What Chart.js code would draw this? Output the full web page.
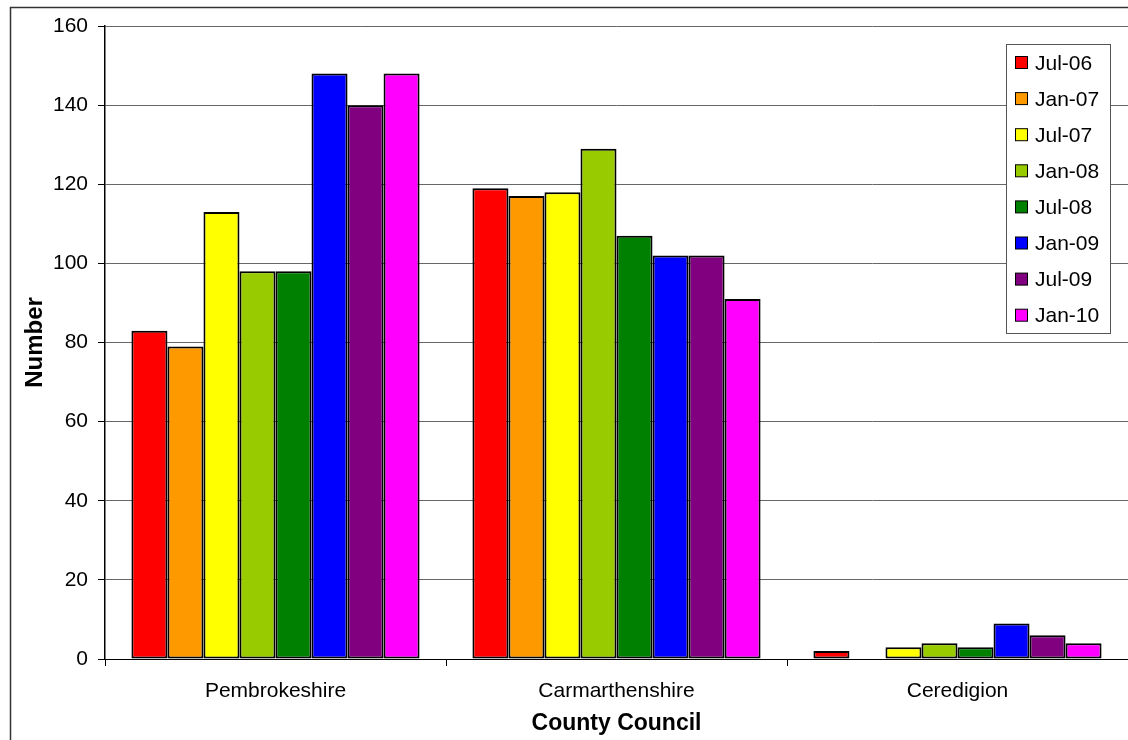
<!DOCTYPE html>
<html lang="en">
<head>
    <meta charset="UTF-8">
    <title>County Council</title>
    <script src="https://cdn.jsdelivr.net/npm/chart.js"></script>
    <style>
        body { margin: 0; background: #fff; }
        #wrap { width: 1128px; height: 740px; }
    </style>
</head>
<body>
<div id="wrap"><canvas id="myChart" width="1128" height="740"></canvas></div>
<script>
    const councils = ['Pembrokeshire', 'Carmarthenshire', 'Ceredigion'];
    const periods = ['Jul-06', 'Jan-07', 'Jul-07', 'Jan-08', 'Jul-08', 'Jan-09', 'Jul-09', 'Jan-10'];
    const cores = ['#FF0000', '#FF9900', '#FFFF00', '#99CC00', '#008000', '#0000FF', '#800080', '#FF00FF'];

    const jul06 = [83, 119, 2];
    const jan07 = [79, 117, 0];
    const jul07 = [113, 118, 3];
    const jan08 = [98, 129, 4];
    const jul08 = [98, 107, 3];
    const jan09 = [148, 102, 9];
    const jul09 = [140, 102, 6];
    const jan10 = [148, 91, 4];
    const valores = [jul06, jan07, jul07, jan08, jul08, jan09, jul09, jan10];

    const yTicks = [0, 20, 40, 60, 80, 100, 120, 140, 160];

    const fonte = "'Liberation Sans', Arial, sans-serif";

    // moldura externa e legenda desenhadas a mao
    const moldura = {
        id: 'moldura',
        beforeDraw(chart) {
            const ctx = chart.ctx;
            ctx.save();
            ctx.strokeStyle = '#333';
            ctx.lineWidth = 1.5;
            ctx.strokeRect(10.5, 7.5, 1300, 900);
            ctx.restore();
        },
        afterDraw(chart) {
            const ctx = chart.ctx;
            ctx.save();
            ctx.fillStyle = '#fff';
            ctx.fillRect(1006.5, 44.5, 104, 289);
            ctx.strokeStyle = '#555';
            ctx.lineWidth = 1;
            ctx.strokeRect(1006.5, 44.5, 104, 289);
            ctx.font = '21px ' + fonte;
            ctx.textBaseline = 'middle';
            chart.data.datasets.forEach(function (ds, i) {
                const y = 63 + i * 36.1;
                ctx.fillStyle = ds.backgroundColor;
                ctx.fillRect(1015.5, y - 6.5, 12, 12);
                ctx.strokeStyle = '#000';
                ctx.strokeRect(1015.5, y - 6.5, 12, 12);
                ctx.fillStyle = '#000';
                ctx.fillText(ds.label, 1035, y + 1);
            });
            ctx.restore();
        }
    };

    const dados = {
        labels: councils,
        datasets: periods.map(function (p, i) {
            return {
                label: p,
                data: valores[i],
                backgroundColor: cores[i],
                borderColor: '#000',
                borderWidth: 2,
                borderSkipped: false,
                categoryPercentage: 0.845,
                barPercentage: 1.0
            };
        })
    };

    const config = {
        type: 'bar',
        data: dados,
        options: {
            responsive: false,
            animation: false,
            layout: { padding: { left: 10, top: 26, right: 0, bottom: 0 } },
            plugins: {
                legend: { display: false },
                tooltip: { enabled: false }
            },
            scales: {
                x: {
                    offset: true,
                    grid: {
                        offset: true,
                        drawOnChartArea: false,
                        drawTicks: true,
                        tickLength: 7,
                        color: '#000'
                    },
                    border: { color: '#000', width: 1 },
                    ticks: {
                        color: '#000',
                        font: { family: fonte, size: 21 },
                        padding: 13
                    },
                    title: {
                        display: true,
                        text: 'County Council',
                        color: '#000',
                        font: { family: fonte, size: 23, weight: 'bold' },
                        padding: { top: 2, bottom: 3 }
                    },
                    afterFit(scale) { scale.height = 81; }
                },
                y: {
                    min: 0,
                    max: 160,
                    afterBuildTicks(scale) {
                        scale.ticks = yTicks.map(v => ({ value: v }));
                    },
                    grid: {
                        color: '#666',
                        lineWidth: 1,
                        tickLength: 7,
                        tickColor: '#000'
                    },
                    border: { color: '#000', width: 1.5 },
                    ticks: {
                        color: '#000',
                        font: { family: fonte, size: 21 },
                        padding: 10
                    },
                    title: {
                        display: true,
                        text: 'Number',
                        color: '#000',
                        font: { family: fonte, size: 24, weight: 'bold' },
                        padding: { top: 11, bottom: 8 }
                    },
                    afterFit(scale) { scale.width = 95; }
                }
            }
        },
        plugins: [moldura]
    };

    new Chart(document.getElementById('myChart'), config);
</script>
</body>
</html>
